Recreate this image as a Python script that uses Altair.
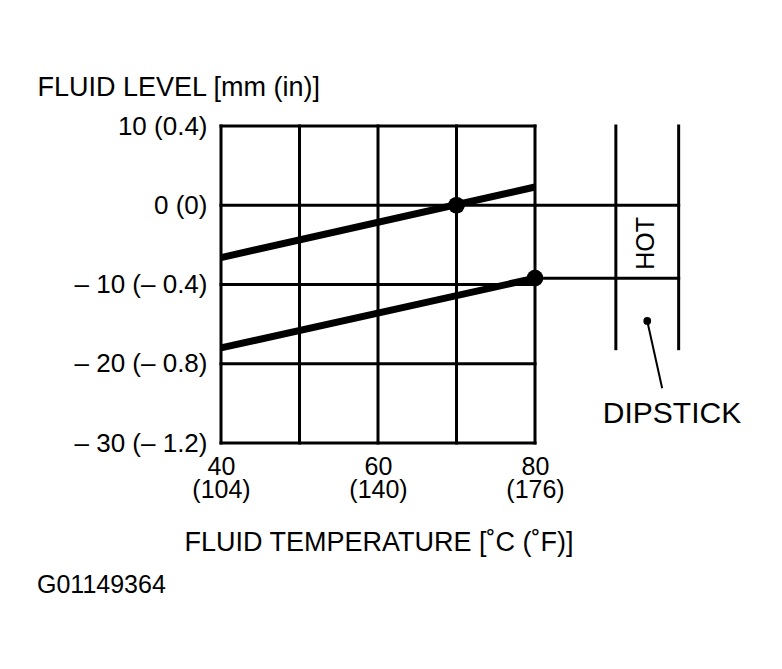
import altair as alt
import pandas as pd

FONT = "Liberation Sans"

# ---- data ----
temp_c_ticks = [40, 60, 80]
temp_f_ticks = [104, 140, 176]
level_mm_ticks = [10, 0, -10, -20, -30]
level_in_ticks = ["0.4", "0", "\u2013 0.4", "\u2013 0.8", "\u2013 1.2"]

grid_x = [40, 50, 60, 70, 80]
grid_y = [10, 0, -10, -20, -30]

line_temp = [40, 80]
upper_level = [-6.6, 2.3]
lower_level = [-18.0, -9.2]

marker_temp = [70, 80]
marker_level = [0.0, -9.2]

# dipstick sketch (data coordinates)
dip_x = [90.3, 98.3]
dip_top, dip_bottom = 10.0, -18.1
dip_marks = [0.0, -9.2]
dip_dot = (94.3, -14.6)
dip_leader_end = (96.2, -23.1)
hot_pos = (94.15, -4.8)
dipstick_label_pos = (97.45, -26.3)


def fmt_mm(v):
    return ("\u2013 " + str(abs(v))) if v < 0 else str(v)


y_label_map = {v: f"{fmt_mm(v)} ({s})" for v, s in zip(level_mm_ticks, level_in_ticks)}
y_expr = " : ".join(f"datum.value == {v} ? '{t}'" for v, t in y_label_map.items()) + " : ''"
x_expr = " : ".join(
    f"datum.value == {c} ? ['{c}', '({f})']" for c, f in zip(temp_c_ticks, temp_f_ticks)
) + " : ''"

X = alt.X(
    "x:Q",
    scale=alt.Scale(domain=[40, 100], nice=False, zero=False),
    axis=alt.Axis(
        values=temp_c_ticks,
        labelExpr=x_expr,
        labelFont=FONT, labelFontSize=25, labelColor="black",
        labelLineHeight=23, labelPadding=11, labelFlush=False, labelOverlap=False,
        labelAlign="center", labelBaseline="top",
        ticks=False, domain=False, grid=False,
        title="FLUID TEMPERATURE [\u02daC (\u02daF)]",
        titleFont=FONT, titleFontSize=27, titleFontWeight="normal", titleColor="black",
        titleAlign="left", titleBaseline="alphabetic", titleX=-37, titleY=107,
    ),
)
Y = alt.Y(
    "y:Q",
    scale=alt.Scale(domain=[-30, 10], nice=False, zero=False),
    axis=alt.Axis(
        values=level_mm_ticks,
        labelExpr=y_expr,
        labelFont=FONT, labelFontSize=26, labelColor="black",
        labelPadding=14, labelFlush=False, labelOverlap=False,
        ticks=False, domain=False, grid=False,
        title="FLUID LEVEL [mm (in)]",
        titleFont=FONT, titleFontSize=27, titleFontWeight="normal", titleColor="black",
        titleAngle=0, titleAlign="left", titleBaseline="alphabetic", titleX=-184, titleY=-31,
    ),
)

# rules: grid, box, dipstick
rules = []
for gx in grid_x:
    rules.append({"x": gx, "x2": gx, "y": -30, "y2": 10})
for gy in grid_y:
    rules.append({"x": 40, "x2": 80, "y": gy, "y2": gy})
for dx in dip_x:
    rules.append({"x": dx, "x2": dx, "y": dip_bottom, "y2": dip_top})
for my in dip_marks:
    rules.append({"x": 80, "x2": dip_x[1], "y": my, "y2": my})
rules_df = pd.DataFrame(rules)

lines_df = pd.DataFrame(
    [{"x": t, "y": v, "s": "upper"} for t, v in zip(line_temp, upper_level)]
    + [{"x": t, "y": v, "s": "lower"} for t, v in zip(line_temp, lower_level)]
)
markers_df = pd.DataFrame({"x": marker_temp, "y": marker_level})
dot_df = pd.DataFrame({"x": [dip_dot[0]], "y": [dip_dot[1]]})
leader_df = pd.DataFrame({"x": [dip_dot[0]], "y": [dip_dot[1]],
                          "x2": [dip_leader_end[0]], "y2": [dip_leader_end[1]]})
hot_df = pd.DataFrame({"x": [hot_pos[0]], "y": [hot_pos[1]], "t": ["HOT"]})
dip_label_df = pd.DataFrame({"x": [dipstick_label_pos[0]], "y": [dipstick_label_pos[1]], "t": ["DIPSTICK"]})

rule_layer = alt.Chart(rules_df).mark_rule(color="black", strokeWidth=3, strokeCap="square").encode(
    x=X, x2="x2:Q", y=Y, y2="y2:Q"
)
line_layer = alt.Chart(lines_df).mark_line(color="black", strokeWidth=7, strokeCap="butt").encode(
    x=X, y=Y, detail="s:N"
)
marker_layer = alt.Chart(markers_df).mark_circle(color="black", size=280, opacity=1).encode(x=X, y=Y)
dot_layer = alt.Chart(dot_df).mark_circle(color="black", size=60, opacity=1).encode(x=X, y=Y)
leader_layer = alt.Chart(leader_df).mark_rule(color="black", strokeWidth=2).encode(
    x=X, y=Y, x2="x2:Q", y2="y2:Q"
)
hot_layer = alt.Chart(hot_df).mark_text(
    font=FONT, fontSize=25, angle=270, align="center", baseline="middle", color="black"
).encode(x=X, y=Y, text="t:N")
dip_label_layer = alt.Chart(dip_label_df).mark_text(
    font=FONT, fontSize=30, align="center", baseline="middle", color="black"
).encode(x=X, y=Y, text="t:N")

chart = alt.layer(
    rule_layer, line_layer, marker_layer, dot_layer, leader_layer, hot_layer, dip_label_layer
).properties(
    width=471,
    height=317,
    padding={"left": 213, "top": 118, "right": 70, "bottom": 200},
    autosize=alt.AutoSizeParams(type="none"),
    background="white",
    title=alt.TitleParams(
        text="G01149364", orient="bottom", anchor="start", frame="group",
        dx=-184, offset=18, font=FONT, fontSize=25, fontWeight="normal", color="black",
    ),
).configure_view(stroke="transparent")

chart.save("out.html", embed_options={"renderer": "svg", "actions": False})
